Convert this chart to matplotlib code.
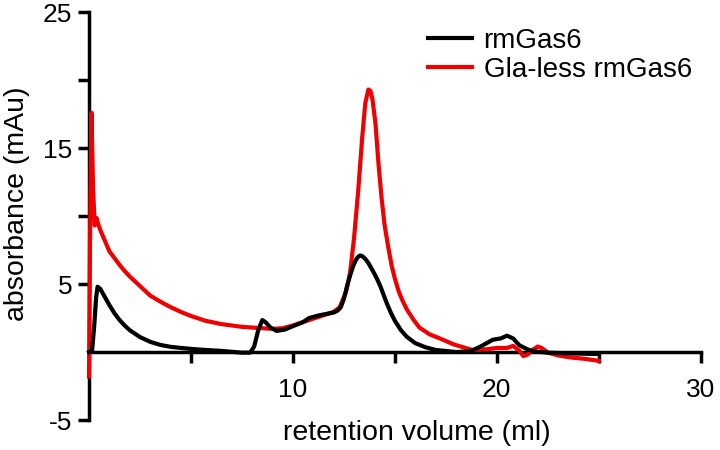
import numpy as np
import matplotlib.pyplot as plt

plt.rcParams['font.family'] = ['Liberation Sans', 'DejaVu Sans']

# rmGas6 (black)
vol_wt = [0, 0.15, 0.25, 0.35, 0.42, 0.55, 0.7, 0.85, 1.0, 1.25, 1.5, 1.75, 2.0, 2.5,
          3.0, 3.5, 4.0, 4.7, 5.5, 6.5, 7.5, 7.9, 8.1, 8.3, 8.5, 8.65, 8.9, 9.2, 9.6,
          10.0, 10.5, 10.8, 11.3, 12.0, 12.2, 12.35, 12.5, 12.65, 12.8, 12.95, 13.1,
          13.2, 13.3, 13.4, 13.55, 13.7, 13.85, 14.0, 14.15, 14.3, 14.45, 14.6, 14.8,
          15.0, 15.3, 15.6, 16.0, 16.5, 17.0, 18.0, 18.7, 19.2, 19.8, 20.2, 20.5,
          20.8, 21.1, 21.5, 21.8, 22.5, 23.5, 25.0]
abs_wt = [0, 0.1, 1.8, 4.0, 4.8, 4.65, 4.25, 3.85, 3.45, 2.85, 2.35, 1.95, 1.6, 1.1,
          0.75, 0.52, 0.38, 0.27, 0.17, 0.08, -0.05, -0.05, 0.4, 1.6, 2.35, 2.2, 1.8, 1.55, 1.65,
          1.9, 2.2, 2.5, 2.7, 2.9, 3.05, 3.3, 3.9, 4.8, 5.6, 6.3, 6.8,
          7.0, 7.1, 7.05, 6.85, 6.55, 6.15, 5.75, 5.3, 4.8, 4.2, 3.6, 2.9,
          2.3, 1.6, 1.1, 0.65, 0.35, 0.15, 0.0, 0.05, 0.4, 0.9, 1.0, 1.2,
          1.0, 0.5, 0.2, 0.05, -0.05, -0.1, -0.15]

# Gla-less rmGas6 (red)
vol_gl = [0, 0.05, 0.12, 0.2, 0.28, 0.37, 0.45, 0.6, 0.8, 1.0, 1.25, 1.5, 1.75, 2.0,
          2.5, 3.0, 3.5, 4.0, 4.5, 5.0, 5.7, 6.5, 7.5, 8.0, 8.5, 9.0, 9.5, 10.0, 10.5,
          11.0, 11.5, 12.0, 12.3, 12.6, 12.8, 13.0, 13.2, 13.4, 13.55, 13.7, 13.8,
          13.9, 14.05, 14.2, 14.35, 14.5, 14.7, 14.85, 15.0, 15.2, 15.4, 15.6, 15.9,
          16.2, 16.7, 17.2, 17.9, 18.8, 19.5, 20.0, 20.5, 20.8, 21.1, 21.3, 21.5,
          21.8, 22.0, 22.2, 22.5, 23.0, 23.6, 24.3, 25.0]
abs_gl = [-1.8, 8.0, 17.6, 12.0, 9.3, 9.85, 9.4, 8.8, 8.1, 7.4, 6.9, 6.4, 5.95, 5.55,
          4.85, 4.15, 3.7, 3.3, 2.95, 2.65, 2.3, 2.05, 1.85, 1.8, 1.75, 1.7, 1.75, 1.95, 2.2,
          2.45, 2.7, 2.95, 3.3, 4.4, 5.8, 8.4, 11.8, 15.8, 18.3, 19.3, 19.2,
          18.6, 16.8, 13.8, 11.3, 9.3, 7.5, 6.3, 5.4, 4.4, 3.7, 3.1, 2.4,
          1.8, 1.3, 1.0, 0.55, 0.15, 0.2, 0.3, 0.3, 0.45, 0.1, -0.3, -0.2,
          0.2, 0.4, 0.3, -0.05, -0.25, -0.4, -0.5, -0.65]

fig = plt.figure(figsize=(7.2, 4.5), dpi=100)
ax = fig.add_axes([89 / 720, 1 - 420 / 450, 611.7 / 720, 408 / 450])

ax.plot(vol_gl, abs_gl, color='#f00000', lw=3, zorder=3, clip_on=False,
        solid_joinstyle='round', label='Gla-less rmGas6')
ax.plot(vol_wt, abs_wt, color='black', lw=3, zorder=4, clip_on=False,
        solid_joinstyle='round', label='rmGas6')

ax.set_xlim(0, 30)
ax.set_ylim(-5, 25)

ax.spines['top'].set_visible(False)
ax.spines['right'].set_visible(False)
ax.spines['bottom'].set_position(('data', 0))
for s in ['left', 'bottom']:
    ax.spines[s].set_linewidth(2.5)

ax.set_xticks([5, 10, 15, 20, 25, 30])
ax.set_xticklabels(['', '10', '', '20', '', '30'])
ax.set_yticks([-5, 5, 10, 15, 20, 25])
ax.set_yticklabels(['-5', '5', '', '15', '', '25'])
ax.tick_params(axis='both', width=2.5, length=8, labelsize=19, pad=4)
ax.tick_params(axis='x', pad=11)

ax.set_xlabel('retention volume (ml)', fontsize=20.5)
ax.xaxis.set_label_coords(0.536, -0.0)
ax.set_ylabel('absorbance (mAu)', fontsize=20.5)
ax.yaxis.set_label_coords(-0.097, 0.53)

h, l = ax.get_legend_handles_labels()
ax.legend(h[::-1], l[::-1], loc='upper left', bbox_to_anchor=(428 / 720, 1 - 28 / 450),
          bbox_transform=fig.transFigure, frameon=False, fontsize=20,
          handlelength=1.6, handletextpad=0.4, labelspacing=0.1,
          borderpad=0, borderaxespad=0)

fig.savefig('out.png', dpi=100)
